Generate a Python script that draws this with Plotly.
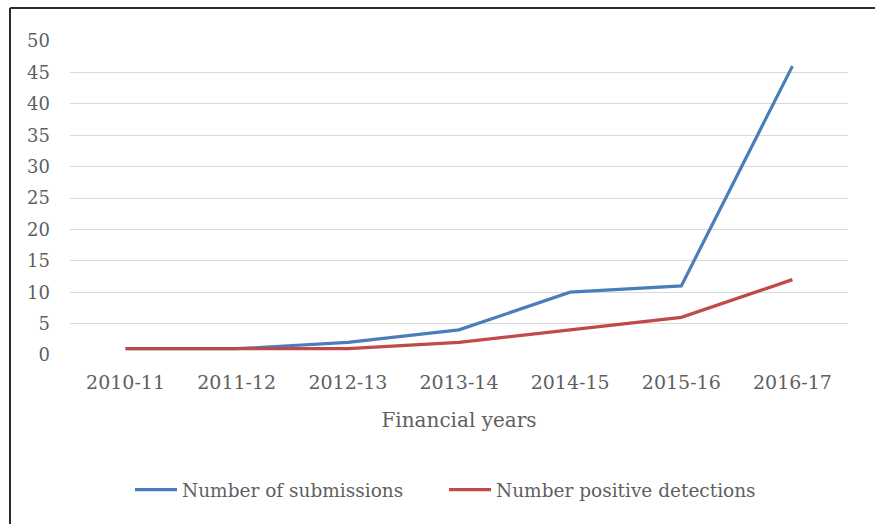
import plotly.graph_objects as go

# Financial years and yearly counts
years = ["2010-11", "2011-12", "2012-13", "2013-14", "2014-15", "2015-16", "2016-17"]
submissions = [1, 1, 2, 4, 10, 11, 46]
positive_detections = [1, 1, 1, 2, 4, 6, 12]
y_ticks = [0, 5, 10, 15, 20, 25, 30, 35, 40, 45, 50]

FONT = "DejaVu Serif"
TEXT = "#5f5f5f"

W, H = 875, 524
L, R, T, B = 70, 27, 41, 169
pw, ph = W - L - R, H - T - B

fig = go.Figure()
fig.add_trace(go.Scatter(
    x=years, y=submissions, mode="lines", name="Number of submissions",
    line=dict(color="#4A7EBB", width=3.2),
))
fig.add_trace(go.Scatter(
    x=years, y=positive_detections, mode="lines", name="Number positive detections",
    line=dict(color="#BE4B48", width=3.2),
))

# frame lines along the top and left edges of the chart
fig.add_shape(type="line", xref="paper", yref="paper",
              x0=(10 - L) / pw, x1=(W - L) / pw,
              y0=1 + (T - 8) / ph, y1=1 + (T - 8) / ph,
              line=dict(color="#2b2b2b", width=2))
fig.add_shape(type="line", xref="paper", yref="paper",
              x0=(10 - L) / pw, x1=(10 - L) / pw,
              y0=1 + (T - 8) / ph, y1=-(B) / ph,
              line=dict(color="#2b2b2b", width=2))

fig.update_layout(
    width=W, height=H,
    margin=dict(l=L, r=R, t=T, b=B),
    paper_bgcolor="white", plot_bgcolor="white",
    font=dict(family=FONT, size=18, color=TEXT),
    showlegend=True,
    legend=dict(orientation="h", x=(130 - L) / pw, xanchor="left",
                y=(ph - (490 - T)) / ph, yanchor="middle",
                font=dict(family=FONT, size=18.5, color=TEXT),
                itemwidth=42, entrywidth=257, tracegroupgap=0,
                bgcolor="rgba(0,0,0,0)"),
    xaxis=dict(
        type="category", range=[-0.5, 6.5], showgrid=False, zeroline=False,
        showline=False, ticks="", tickfont=dict(size=19, color=TEXT),
        ticklabelstandoff=14,
        title=dict(text="Financial years", font=dict(size=20, color=TEXT), standoff=20),
    ),
    yaxis=dict(
        range=[0, 50], tickvals=y_ticks, showgrid=True, gridcolor="#d9d9d9",
        gridwidth=1, zeroline=False, showline=False, ticks="",
        tickfont=dict(size=18, color=TEXT), ticklabelstandoff=19,
    ),
)

fig.write_html("out.html")
